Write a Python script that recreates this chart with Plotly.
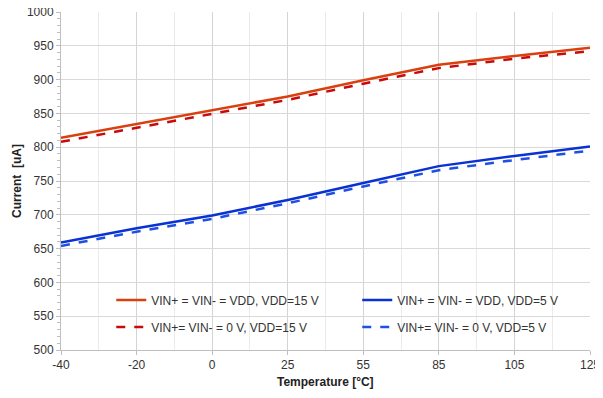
import plotly.graph_objects as go

temps = ["-40", "-20", "0", "25", "55", "85", "105", "125"]
vdd15_vdd = [814, 834, 854, 875, 899, 922, 935, 947]
vdd15_0v = [808, 829, 849, 870, 894, 917, 931, 942]
vdd5_vdd = [659, 680, 699, 722, 747, 772, 787, 801]
vdd5_0v = [654, 675, 694, 717, 742, 766, 781, 795]

names = [
    "VIN+ = VIN- = VDD, VDD=15 V",
    "VIN+ = VIN- = VDD, VDD=5 V",
    "VIN+= VIN- = 0 V, VDD=15 V",
    "VIN+= VIN- = 0 V, VDD=5 V",
]
x_title = "Temperature [°C]"
y_title = "Current  [uA]"

xs = list(range(len(temps)))

fig = go.Figure()
fig.add_trace(go.Scatter(x=xs, y=vdd15_vdd, name=names[0], mode="lines",
                         line=dict(color="#D9400F", width=2.5), legend="legend"))
fig.add_trace(go.Scatter(x=xs, y=vdd5_vdd, name=names[1], mode="lines",
                         line=dict(color="#0A32D2", width=2.5), legend="legend2"))
fig.add_trace(go.Scatter(x=xs, y=vdd15_0v, name=names[2], mode="lines",
                         line=dict(color="#C80A0A", width=2.5, dash="dash"), legend="legend3"))
fig.add_trace(go.Scatter(x=xs, y=vdd5_0v, name=names[3], mode="lines",
                         line=dict(color="#1E50E6", width=2.5, dash="dash"), legend="legend4"))

font_family = "Liberation Sans, Arial, sans-serif"
legend_common = dict(orientation="h", bgcolor="rgba(0,0,0,0)", xanchor="left", yanchor="middle",
                     font=dict(family=font_family, size=12, color="#333333"), borderwidth=0)

# white box behind the legend that hides the gridlines
fig.add_shape(type="rect", xref="paper", yref="paper", x0=0.055, x1=0.985, y0=0.03, y1=0.192,
              fillcolor="white", line=dict(width=0), layer="between")

fig.update_layout(
    width=595, height=382,
    margin=dict(l=53, r=13, t=4, b=40),
    paper_bgcolor="white", plot_bgcolor="white",
    font=dict(family=font_family, size=12, color="#333333"),
    showlegend=True,
    legend=dict(**legend_common, x=0.095, y=0.148),
    legend2=dict(**legend_common, x=0.56, y=0.148),
    legend3=dict(**legend_common, x=0.095, y=0.068),
    legend4=dict(**legend_common, x=0.56, y=0.068),
    xaxis=dict(
        tickmode="array", tickvals=xs, ticktext=temps,
        range=[0, len(temps) - 1], automargin=False, ticklabeloverflow="allow",
        showgrid=True, gridcolor="#D4D4D4", gridwidth=1,
        showline=True, linecolor="#BFBFBF", linewidth=1,
        ticks="outside", ticklen=4, tickcolor="#BFBFBF",
        minor=dict(dtick=0.5, tick0=0, showgrid=True, gridcolor="#EBEBEB", ticks=""),
        zeroline=False,
        tickfont=dict(size=12, color="#333333"),
    ),
    yaxis=dict(
        range=[500, 1000], dtick=50, tick0=500, automargin=False, ticklabeloverflow="allow",
        showgrid=True, gridcolor="#D9D9D9", gridwidth=1,
        showline=True, linecolor="#BFBFBF", linewidth=1,
        ticks="outside", ticklen=4, tickcolor="#BFBFBF",
        minor=dict(dtick=10, ticks="outside", ticklen=3, tickcolor="#BFBFBF", showgrid=False),
        zeroline=False,
        tickfont=dict(size=12, color="#333333"),
    ),
    annotations=[
        dict(text="<b>" + x_title + "</b>", xref="paper", yref="paper", x=0.5, y=-0.0947,
             xanchor="center", yanchor="middle", showarrow=False,
             font=dict(family=font_family, size=12, color="#222222")),
        dict(text="<b>" + y_title + "</b>", xref="paper", yref="paper", x=-0.0832, y=0.5,
             xanchor="center", yanchor="middle", showarrow=False, textangle=-90,
             font=dict(family=font_family, size=12, color="#222222")),
    ],
)

fig.write_html("out.html")
